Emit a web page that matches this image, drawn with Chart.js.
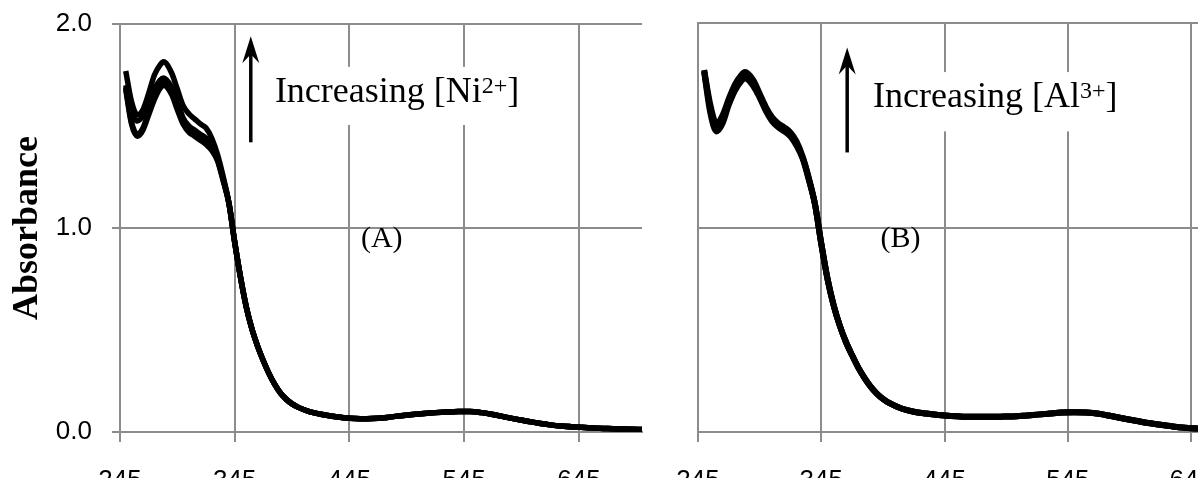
<!DOCTYPE html>
<html>
<head>
<meta charset="utf-8">
<script src="https://cdn.jsdelivr.net/npm/chart.js@4.4.0/dist/chart.umd.min.js"></script>
<style>
  html, body { margin: 0; padding: 0; background: #fff; overflow: hidden; }
  #wrap { position: relative; width: 1198px; height: 478px; overflow: hidden; background: #fff; }
  #wrap canvas { position: absolute; top: 0; }
</style>
</head>
<body>
<div id="wrap">
  <canvas id="chartA" width="660" height="500" style="left:0"></canvas>
  <canvas id="chartB" width="620" height="500" style="left:660px"></canvas>
</div>
<script>
// wavelength (nm) of each sampled point
const wavelengths = [250, 255, 260, 265, 270, 275, 280, 283, 290, 295, 300, 305, 310, 315, 320, 325, 330, 335,
  340, 345, 350, 355, 360, 365, 370, 375, 380, 385, 390, 395, 400,
  410, 420, 430, 440, 450, 460, 470, 480, 490, 500, 510, 520, 530, 540, 550, 560, 570, 580, 590,
  600, 610, 620, 630, 640, 650, 660, 670, 680, 690, 700];

const xTicks = [245, 345, 445, 545, 645];

// (A) Ni2+ titration: the curves differ only below 340 nm
const niHead1 = [1.77, 1.62, 1.555, 1.58, 1.66, 1.75, 1.80, 1.815, 1.76, 1.68, 1.60, 1.56, 1.535, 1.51, 1.49, 1.44, 1.36, 1.25];
const niHead2 = [1.70, 1.58, 1.525, 1.55, 1.61, 1.68, 1.725, 1.735, 1.69, 1.62, 1.54, 1.50, 1.48, 1.46, 1.44, 1.40, 1.34, 1.24];
const niHead3 = [1.69, 1.52, 1.46, 1.49, 1.57, 1.65, 1.70, 1.715, 1.67, 1.59, 1.52, 1.48, 1.455, 1.44, 1.42, 1.39, 1.335, 1.235];
const niHead4 = [1.68, 1.51, 1.45, 1.48, 1.555, 1.63, 1.685, 1.70, 1.655, 1.58, 1.51, 1.47, 1.45, 1.43, 1.41, 1.38, 1.33, 1.23];
const niTail = [1.12, 0.93, 0.76, 0.615, 0.505, 0.42, 0.348, 0.285, 0.232, 0.19, 0.16, 0.138, 0.122,
  0.10, 0.087, 0.077, 0.07, 0.066, 0.065, 0.067, 0.073, 0.08, 0.086, 0.091, 0.095, 0.098, 0.10, 0.10, 0.095, 0.086, 0.074, 0.063,
  0.053, 0.043, 0.035, 0.029, 0.025, 0.022, 0.019, 0.017, 0.015, 0.013, 0.012];

// (B) Al3+ titration
const alHead1 = [1.77, 1.60, 1.51, 1.55, 1.63, 1.70, 1.745, 1.76, 1.72, 1.655, 1.59, 1.54, 1.51, 1.49, 1.465, 1.42, 1.345, 1.24];
const alHead2 = [1.765, 1.58, 1.49, 1.53, 1.61, 1.685, 1.73, 1.745, 1.705, 1.645, 1.58, 1.53, 1.50, 1.48, 1.455, 1.41, 1.34, 1.235];
const alHead3 = [1.76, 1.56, 1.47, 1.51, 1.60, 1.67, 1.715, 1.73, 1.69, 1.635, 1.57, 1.52, 1.49, 1.47, 1.445, 1.40, 1.335, 1.23];
const alTail = [1.11, 0.92, 0.75, 0.62, 0.52, 0.44, 0.375, 0.315, 0.265, 0.222, 0.188, 0.162, 0.142,
  0.115, 0.099, 0.09, 0.083, 0.078, 0.075, 0.074, 0.074, 0.075, 0.076, 0.08, 0.085, 0.09, 0.095, 0.097, 0.095, 0.089, 0.078, 0.066,
  0.055, 0.044, 0.035, 0.027, 0.021, 0.017, 0.015, 0.013, 0.012, 0.011, 0.010];

const gridColor = '#8c8c8c';
const tickFont = { family: "'Liberation Sans', Arial, sans-serif", size: 26 };

function makeDatasets(heads, tail, width) {
  return heads.map(h => {
    const values = h.concat(tail);
    return {
      data: wavelengths.map((w, i) => ({ x: w, y: values[i] })),
      borderColor: '#000',
      borderWidth: width,
      pointRadius: 0,
      fill: false,
      cubicInterpolationMode: 'monotone'
    };
  });
}

function makeScales(withLabels, yWidth) {
  return {
    x: {
      type: 'linear',
      min: 245,
      max: 700,
      afterBuildTicks: ax => { ax.ticks = xTicks.map(v => ({ value: v })); },
      grid: { color: gridColor, lineWidth: 2, tickLength: 10, tickColor: gridColor },
      border: { color: gridColor, width: 2 },
      ticks: { font: tickFont, color: '#000', padding: 23, maxRotation: 0, autoSkip: false },
      afterFit: ax => { ax.height = 68; ax.paddingLeft = 0; ax.paddingRight = 0; }
    },
    y: {
      type: 'linear',
      min: 0,
      max: 2,
      grid: { color: gridColor, lineWidth: 2, drawTicks: withLabels, tickLength: 8, tickColor: gridColor },
      border: { color: gridColor, width: 2 },
      ticks: {
        display: withLabels,
        stepSize: 1,
        font: tickFont,
        color: '#000',
        padding: 20,
        callback: v => v.toFixed(1)
      },
      title: {
        display: withLabels,
        text: 'Absorbance',
        color: '#000',
        font: { family: "'Liberation Serif', 'Times New Roman', serif", size: 36, weight: 'bold' },
        padding: { top: 6, bottom: 0 }
      },
      afterFit: ax => { ax.width = yWidth; ax.paddingTop = 0; ax.paddingBottom = 0; }
    }
  };
}

// text box, arrow and panel letter
const notePlugin = {
  id: 'note',
  afterDatasetsDraw(chart, args, n) {
    const { ctx, scales: { x, y } } = chart;
    ctx.save();
    const bl = x.getPixelForValue(n.boxLeft), br = x.getPixelForValue(n.boxRight);
    const bt = y.getPixelForValue(n.boxTop), bb = y.getPixelForValue(n.boxBottom);
    ctx.fillStyle = '#fff';
    ctx.fillRect(bl, bt, br - bl, bb - bt);

    ctx.fillStyle = '#000';
    ctx.textBaseline = 'alphabetic';
    ctx.textAlign = 'left';
    let tx = x.getPixelForValue(n.textX);
    const ty = y.getPixelForValue(n.textY);
    const big = '36px "Liberation Serif", "Times New Roman", serif';
    const small = '24px "Liberation Serif", "Times New Roman", serif';
    const main = 'Increasing [' + n.ion;
    ctx.font = big;
    ctx.fillText(main, tx, ty);
    tx += ctx.measureText(main).width;
    ctx.font = small;
    ctx.fillText(n.charge, tx, ty - 9);
    tx += ctx.measureText(n.charge).width;
    ctx.font = big;
    ctx.fillText(']', tx, ty);

    // arrow
    const ax = x.getPixelForValue(n.arrowX);
    const at = y.getPixelForValue(n.arrowTop);
    const ab = y.getPixelForValue(n.arrowBottom);
    ctx.strokeStyle = '#000';
    ctx.lineWidth = 3.5;
    ctx.beginPath();
    ctx.moveTo(ax, ab);
    ctx.lineTo(ax, at + 16);
    ctx.stroke();
    ctx.beginPath();
    ctx.moveTo(ax, at);
    ctx.lineTo(ax - 8.5, at + 27);
    ctx.lineTo(ax, at + 18);
    ctx.lineTo(ax + 8.5, at + 27);
    ctx.closePath();
    ctx.fill();

    ctx.font = '30px "Liberation Serif", "Times New Roman", serif';
    ctx.fillText(n.panel, x.getPixelForValue(n.panelX), y.getPixelForValue(n.panelY));
    ctx.restore();
  }
};

function makeChart(id, datasets, scales, padTop, padRight, note) {
  return new Chart(document.getElementById(id), {
    type: 'line',
    data: { datasets: datasets },
    options: {
      responsive: false,
      animation: false,
      devicePixelRatio: 1,
      layout: { padding: { top: padTop, right: padRight, left: 0, bottom: 0 } },
      scales: scales,
      plugins: { legend: { display: false }, tooltip: { enabled: false }, note: note }
    },
    plugins: [notePlugin]
  });
}

makeChart('chartA', makeDatasets([niHead4, niHead3, niHead2, niHead1], niTail, 5.5), makeScales(true, 120), 24, 18, {
  boxLeft: 374, boxRight: 600, boxTop: 1.79, boxBottom: 1.505,
  textX: 380, textY: 1.618, ion: 'Ni', charge: '2+',
  arrowX: 359, arrowTop: 1.94, arrowBottom: 1.42,
  panel: '(A)', panelX: 455, panelY: 0.907
});

makeChart('chartB', makeDatasets([alHead3, alHead2, alHead1], alTail, 6), makeScales(false, 38), 23, 21, {
  boxLeft: 382, boxRight: 591, boxTop: 1.76, boxBottom: 1.47,
  textX: 387, textY: 1.588, ion: 'Al', charge: '3+',
  arrowX: 366, arrowTop: 1.88, arrowBottom: 1.367,
  panel: '(B)', panelX: 393, panelY: 0.907
});
</script>
</body>
</html>
